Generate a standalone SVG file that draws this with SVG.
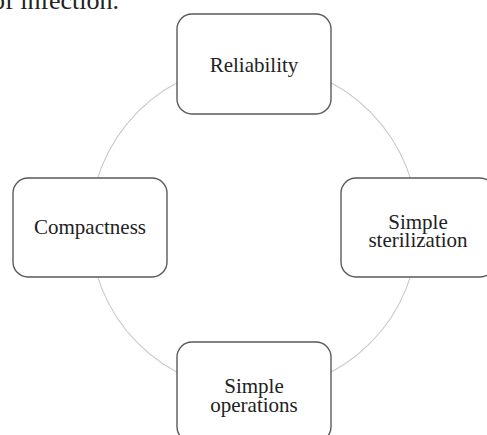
<svg xmlns="http://www.w3.org/2000/svg" width="487" height="435" viewBox="0 0 487 435">
<style>
.node rect{fill:#fff;stroke:#5a5a5a;stroke-width:1.4}
.node text,.doc{font-family:"Liberation Serif","Times New Roman",serif;fill:#222;text-anchor:middle}
.node text{font-size:21px}
.conn{fill:none;stroke:#c8c8c8;stroke-width:1.1}
</style>
<rect width="487" height="435" fill="#fff"/>
<text class="doc" x="-8" y="9" style="text-anchor:start;font-size:26px">of infection.</text>
<g id="connectors">
<circle class="conn" cx="254" cy="227.5" r="164"/>
</g>
<g id="node-reliability" class="node">
<rect x="177" y="14" width="154" height="100" rx="15"/>
<text x="254" y="71.5">Reliability</text>
</g>
<g id="node-compactness" class="node">
<rect x="13" y="178" width="154" height="99" rx="15"/>
<text x="90" y="234">Compactness</text>
</g>
<g id="node-sterilization" class="node">
<rect x="341" y="178" width="154" height="99" rx="15"/>
<text x="418" y="228.5">Simple</text>
<text x="418" y="247">sterilization</text>
</g>
<g id="node-operations" class="node">
<rect x="177" y="342" width="154" height="100" rx="15"/>
<text x="254" y="393">Simple</text>
<text x="254" y="411.5">operations</text>
</g>
</svg>
